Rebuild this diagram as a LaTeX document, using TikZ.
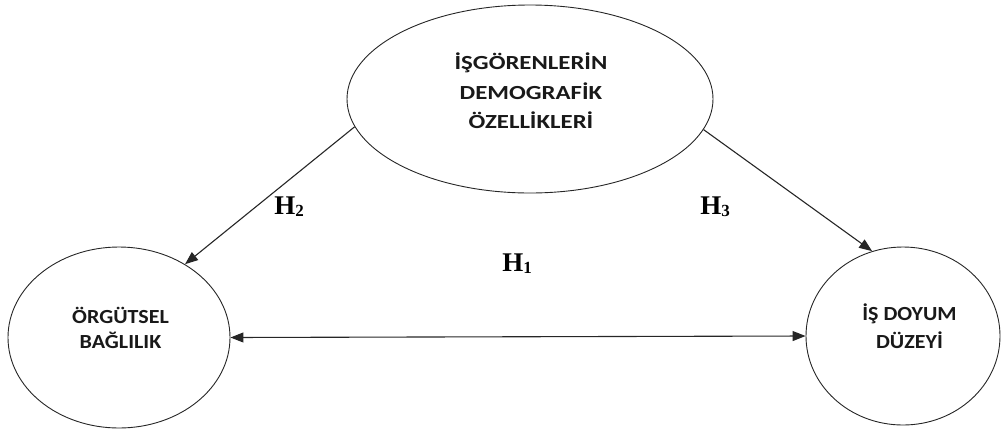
\documentclass[tikz,border=0pt]{standalone}
\usepackage{fontspec}
\setmainfont{Carlito}
\newfontfamily\hfont{Liberation Serif}
\usetikzlibrary{shapes.geometric,arrows.meta}
\tikzset{
  oval/.style={draw=black!85, line width=0.9pt, ellipse, inner sep=0pt},
  txt/.style={anchor=base, font=\fontsize{20}{24}\selectfont\bfseries, text=black!90, inner sep=0pt},
  hyp/.style={font=\hfont\bfseries\fontsize{27}{27}\selectfont, inner sep=0pt},
  conn/.style={line width=1.1pt, draw=black!85, -{Triangle[length=13pt,width=10pt]}},
  dconn/.style={line width=1.1pt, draw=black!85, {Triangle[length=13pt,width=10pt]}-{Triangle[length=13pt,width=10pt]}}
}
\newcommand{\hyplabel}[1]{H\raisebox{-2pt}{\fontsize{17}{17}\selectfont #1}}
\begin{document}
\begin{tikzpicture}[x=1pt,y=-1pt]
\useasboundingbox (0,0) rectangle (1003,432);
\node[oval, minimum width=366pt, minimum height=188pt] (top) at (530,99) {};
\node[oval, minimum width=222pt, minimum height=181pt] (left) at (119,337.5) {};
\node[oval, minimum width=194pt, minimum height=178pt] (right) at (903,336) {};
\node[txt, xscale=1.24] (topA) at (531,69) {İŞGÖRENLERİN};
\node[txt, xscale=1.24] (topB) at (531,99.5) {DEMOGRAFİK};
\node[txt, xscale=1.24] (topC) at (531,128) {ÖZELLİKLERİ};
\node[txt, xscale=1.1] (leftA) at (120.5,323) {ÖRGÜTSEL};
\node[txt, xscale=1.1] (leftB) at (120.5,348) {BAĞLILIK};
\node[txt, xscale=1.1] (rightA) at (909.5,320) {İŞ DOYUM};
\node[txt, xscale=1.1] (rightB) at (909.5,348) {DÜZEYİ};
\draw[conn] (top.189) -- (left.48);
\draw[conn] (top.-10) -- (right.110);
\draw[dconn] (left.east) -- (right.west);
\node[hyp] (h2) at (289,207) {\hyplabel{2}};
\node[hyp] (h3) at (715,207) {\hyplabel{3}};
\node[hyp] (h1) at (517,264) {\hyplabel{1}};
\end{tikzpicture}
\end{document}
